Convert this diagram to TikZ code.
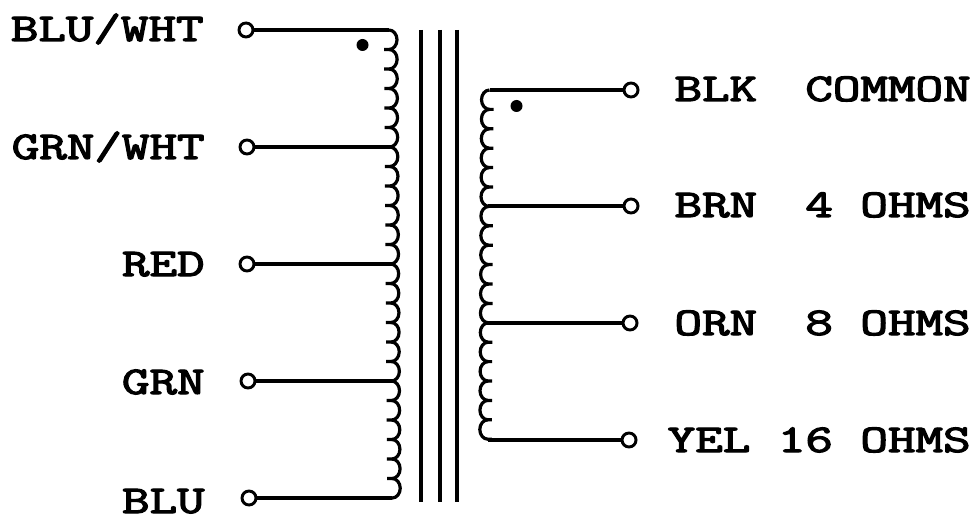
\documentclass[tikz,border=0pt]{standalone}
\usepackage{fontspec}
\newfontfamily\wirefont[FakeBold=2.8]{Latin Modern Mono}
\tikzstyle{wire} = [draw, line width=2.4pt]
\tikzstyle{terminal} = [circle, draw, fill=white, line width=2.2pt, inner sep=0pt, minimum size=10.5pt]
\tikzstyle{phasedot} = [circle, fill=black, inner sep=0pt, minimum size=9pt]
\tikzstyle{wirelabel} = [anchor=base east, inner sep=0pt, xscale=1.36, transform shape, font=\fontsize{29.5}{29.5}\selectfont\wirefont]

\begin{document}
\begin{tikzpicture}[x=.75pt, y=.75pt]
    \useasboundingbox (0,0) rectangle (973,518);

    % PRIMARY terminals
        \node [terminal] (bluwht) at (246,488) {};
        \node [terminal] (grnwht) at (247,371) {};
        \node [terminal] (red) at (247,254) {};
        \node [terminal] (grn) at (248,137) {};
        \node [terminal] (blu) at (249,20) {};
    % SECONDARY terminals
        \node [terminal] (blk) at (631,428) {};
        \node [terminal] (brn) at (631,312) {};
        \node [terminal] (orn) at (630,195) {};
        \node [terminal] (yel) at (629,78) {};

    % PRIMARY labels
        \node [wirelabel] (lbluwht) at (204,477) {BLU/WHT};
        \node [wirelabel] (lgrnwht) at (205,359) {GRN/WHT};
        \node [wirelabel] (lred) at (205,242) {RED};
        \node [wirelabel] (lgrn) at (205,124) {GRN};
        \node [wirelabel] (lblu) at (205,5) {BLU};
    % SECONDARY labels
        \node [wirelabel] (lblk) at (971,417) {BLK\hspace{-3.8pt}~~COMMON};
        \node [wirelabel] (lbrn) at (971,301) {BRN\hspace{-3.8pt}~~4 OHMS};
        \node [wirelabel] (lorn) at (971,183) {ORN\hspace{-3.8pt}~~8 OHMS};
        \node [wirelabel] (lyel) at (971,66) {YEL 16 OHMS};

    % PRIMARY winding
        \foreach \i in {0,...,23} {
            \pgfmathsetmacro{\xc}{389+.14*\i}
            \pgfmathsetmacro{\yc}{488-19.5*\i}
            \path[wire] (\xc,\yc) arc (90:-90:8 and 9.75) -- ++(-5,0);
        }
        \coordinate (p0) at (389,488);
        \coordinate (p1) at (390,371);
        \coordinate (p2) at (391,254);
        \coordinate (p3) at (392,137);
        \coordinate (p4) at (392.4,20);
    % SECONDARY winding
        \foreach \i in {0,...,17} {
            \pgfmathsetmacro{\xc}{489.5-.1*\i}
            \pgfmathsetmacro{\yc}{428-19.4*\i}
            \path[wire] (\xc,\yc) arc (90:270:8 and 9.7) -- ++(4,0);
        }
        \coordinate (s0) at (489.5,428);
        \coordinate (s1) at (488,312);
        \coordinate (s2) at (487,195);
        \coordinate (s3) at (487.5,78);

    % LINE terminal -> tap
        \path[wire] (bluwht) -- (p0);
        \path[wire] (grnwht) -- (p1);
        \path[wire] (red) -- (p2);
        \path[wire] (grn) -- (p3);
        \path[wire] (blu) -- (p4);
        \path[wire] (blk) -- (s0);
        \path[wire] (brn) -- (s1);
        \path[wire] (orn) -- (s2);
        \path[wire] (yel) -- (s3);

    % CORE
        \coordinate (c1a) at (421,488);
        \coordinate (c1b) at (421,16);
        \coordinate (c2a) at (440,488);
        \coordinate (c2b) at (440,16);
        \coordinate (c3a) at (457,488);
        \coordinate (c3b) at (457,16);
        \path[wire] (c1a) -- (c1b);
        \path[wire] (c2a) -- (c2b);
        \path[wire] (c3a) -- (c3b);

    % phase dots
        \node [phasedot] (dotp) at (362.5,473) {};
        \node [phasedot] (dots) at (516.5,412) {};
\end{tikzpicture}
\end{document}
